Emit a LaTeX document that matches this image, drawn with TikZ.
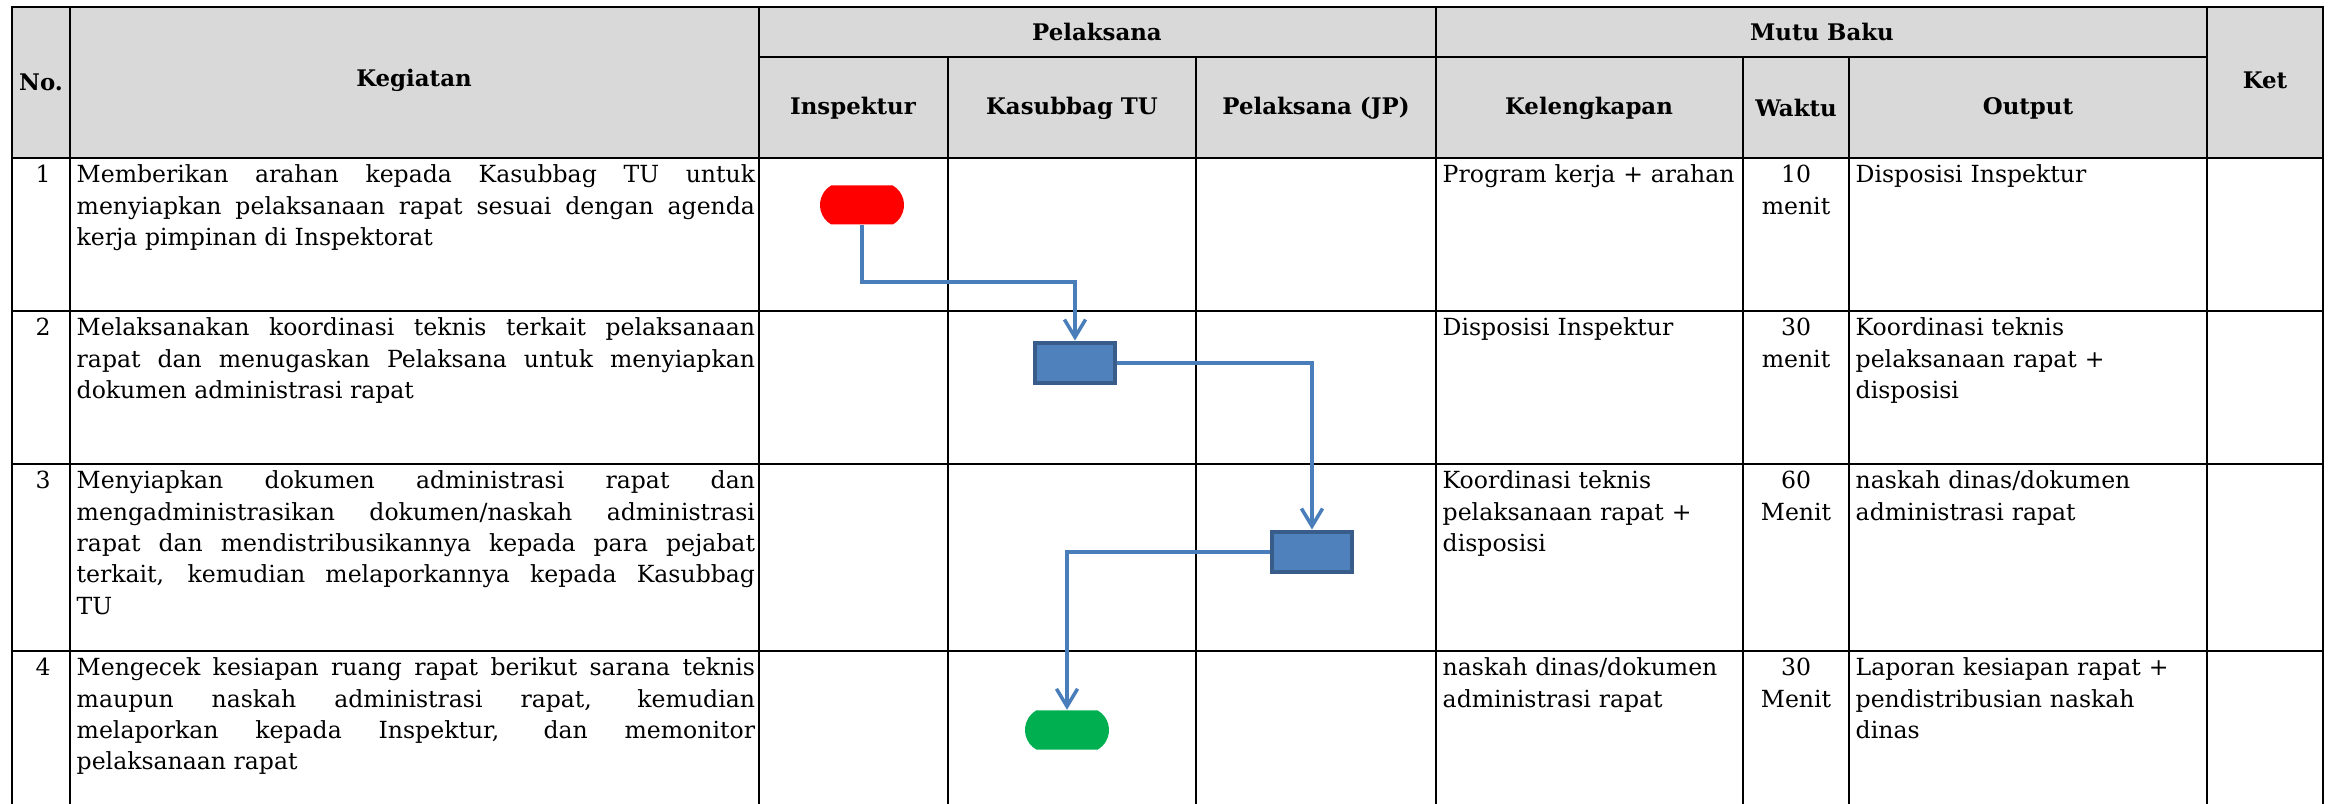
\documentclass[tikz,border=0pt]{standalone}
\usepackage{fontspec}
\setmainfont{DejaVu Serif}
\usepackage{tikz}
\usetikzlibrary{arrows.meta,positioning,shapes.misc}
\definecolor{abu}{HTML}{D9D9D9}
\definecolor{biru}{HTML}{4F81BD}
\definecolor{birutua}{HTML}{385D8A}
\definecolor{garis}{HTML}{4A7EBB}
\definecolor{merah}{HTML}{FF0000}
\definecolor{hijau}{HTML}{00B050}
\tikzset{>={Straight Barb[length=5pt,width=6pt]},x=0.01cm,y=-0.01cm}
\tikzset{kepala/.style={font=\bfseries\fontsize{6.5}{8}\selectfont,inner sep=0pt},
	isi/.style={font=\fontsize{6.7}{8.9}\selectfont,inner sep=0pt,anchor=base west,align=left},
	uraian/.style={isi,text width=6.78cm,align=justify},
	lengkap/.style={isi,text width=3.45cm},
	waktu/.style={isi,anchor=base,text width=1cm,align=center},
	terminal/.style={rounded rectangle,rounded rectangle arc length=120,minimum width=0.84cm,minimum height=0.39cm,inner sep=0pt},
	proses/.style={rectangle,draw=birutua,line width=1.4pt,fill=biru,minimum width=0.80cm,minimum height=0.40cm,inner sep=0pt},
	alur/.style={->,draw=garis,line width=1pt}}

\begin{document}
\begin{tikzpicture}
	\useasboundingbox (0,0) rectangle (2332,804);
	\fill[abu] (12,7) rectangle (2323,158);
	\begin{scope}[line width=0.7pt,line cap=rect]
		\draw (12,7) -- (2323,7) (759,57) -- (2207,57);
		\foreach \y in {158,311,464,651} \draw (12,\y) -- (2323,\y);
		\foreach \x in {12,70,759,1436,2207,2323} \draw (\x,7) -- (\x,804);
		\foreach \x in {948,1196,1743,1849} \draw (\x,57) -- (\x,804);
	\end{scope}

	\node[kepala] (no) at (41,82) {No.};
	\node[kepala] (kegiatan) at (414,80) {Kegiatan};
	\node[kepala] (pelaksana) at (1097,32) {Pelaksana};
	\node[kepala] (inspektur) at (853,108) {Inspektur};
	\node[kepala] (kasubbag) at (1072,108) {Kasubbag TU};
	\node[kepala] (jp) at (1316,108) {Pelaksana (JP)};
	\node[kepala] (mutu) at (1822,32) {Mutu Baku};
	\node[kepala] (kelengkapan) at (1589,108) {Kelengkapan};
	\node[kepala] (waktu) at (1796,108) {Waktu};
	\node[kepala] (output) at (2028,108) {Output};
	\node[kepala] (ket) at (2265,80) {Ket};

	\node[isi,anchor=base] (no1) at (43,183) {1};
	\node[isi,anchor=base] (no2) at (43,336) {2};
	\node[isi,anchor=base] (no3) at (43,489) {3};
	\node[isi,anchor=base] (no4) at (43,676) {4};

	\node[uraian] (keg1) at (76,183) {Memberikan arahan kepada Kasubbag TU untuk\linebreak menyiapkan pelaksanaan rapat sesuai dengan agenda\linebreak kerja pimpinan di Inspektorat};
	\node[uraian] (keg2) at (76,336) {Melaksanakan koordinasi teknis terkait pelaksanaan\linebreak rapat dan menugaskan Pelaksana untuk menyiapkan\linebreak dokumen administrasi rapat};
	\node[uraian] (keg3) at (76,489) {Menyiapkan dokumen administrasi rapat dan\linebreak mengadministrasikan dokumen/naskah administrasi\linebreak rapat dan mendistribusikannya kepada para pejabat\linebreak terkait, kemudian melaporkannya kepada Kasubbag\linebreak TU};
	\node[uraian] (keg4) at (76,676) {Mengecek kesiapan ruang rapat berikut sarana teknis\linebreak maupun naskah administrasi rapat, kemudian\linebreak melaporkan kepada Inspektur, dan memonitor\linebreak pelaksanaan rapat};

	\node[lengkap] (lengkap1) at (1442,183) {Program kerja + arahan};
	\node[lengkap] (lengkap2) at (1442,336) {Disposisi Inspektur};
	\node[lengkap] (lengkap3) at (1442,489) {Koordinasi teknis\\pelaksanaan rapat +\\disposisi};
	\node[lengkap] (lengkap4) at (1442,676) {naskah dinas/dokumen\\administrasi rapat};

	\node[waktu] (waktu1) at (1796,183) {10\\menit};
	\node[waktu] (waktu2) at (1796,336) {30\\menit};
	\node[waktu] (waktu3) at (1796,489) {60\\Menit};
	\node[waktu] (waktu4) at (1796,676) {30\\Menit};

	\node[lengkap] (out1) at (1855,183) {Disposisi Inspektur};
	\node[lengkap] (out2) at (1855,336) {Koordinasi teknis\\pelaksanaan rapat +\\disposisi};
	\node[lengkap] (out3) at (1855,489) {naskah dinas/dokumen\\administrasi rapat};
	\node[lengkap] (out4) at (1855,676) {Laporan kesiapan rapat +\\pendistribusian naskah\\dinas};

	\node[terminal,fill=merah] (mulai) at (862,205) {};
	\node[proses] (proses1) at (1075,363) {};
	\node[proses] (proses2) at (1312,552) {};
	\node[terminal,fill=hijau] (selesai) at (1067,730) {};

	\draw[alur] (mulai.south) -- ++(0,57) -| (proses1.north);
	\draw[alur] (proses1.east) -| (proses2.north);
	\draw[alur] (proses2.west) -| (selesai.north);
\end{tikzpicture}
\end{document}
